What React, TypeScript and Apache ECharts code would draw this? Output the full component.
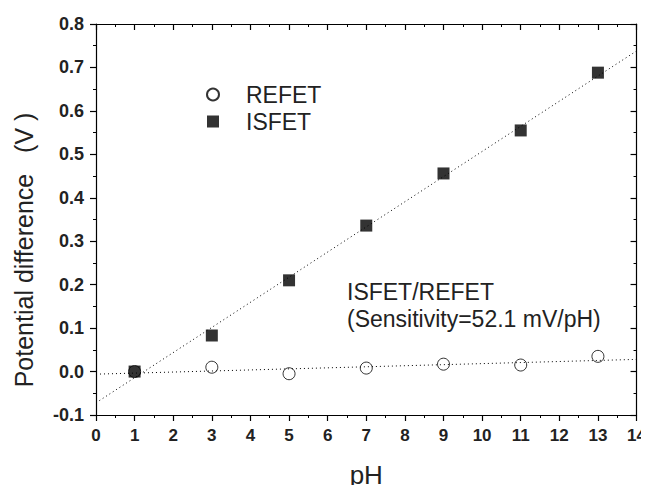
import React, { useEffect, useRef } from "react";
import * as echarts from "echarts";

const phValues = [1, 3, 5, 7, 9, 11, 13];
const isfetValues = [0.0, 0.083, 0.21, 0.336, 0.456, 0.555, 0.688];
const refetValues = [0.0, 0.01, -0.005, 0.008, 0.017, 0.015, 0.035];
const isfetFitX = [0, 14];
const isfetFitY = [-0.072, 0.738];
const refetFitX = [0, 14];
const refetFitY = [-0.006, 0.028];
const annotationLines = ["ISFET/REFET", "(Sensitivity=52.1 mV/pH)"];
const yTitle = "Potential difference   (V )";
const xTitle = "pH";

const FONT = "Liberation Sans, Arial, sans-serif";
const TEXT = "#222";

export default function App() {
  const ref = useRef<HTMLDivElement>(null);
  useEffect(() => {
    if (!ref.current) return;
    const chart = echarts.init(ref.current, null, { renderer: "svg" });
    const axisLine = { show: true, onZero: false, lineStyle: { color: "#000", width: 1.2 } };
    const minor = { show: true, splitNumber: 2, length: 3, lineStyle: { color: "#000", width: 1 } };
    const xBase = {
      type: "value",
      min: 0,
      max: 14,
      interval: 1,
      splitLine: { show: false },
      axisLine,
    };
    const yBase = {
      type: "value",
      min: -0.1,
      max: 0.8,
      interval: 0.1,
      splitLine: { show: false },
      axisLine,
    };
    chart.setOption({
      animation: false,
      backgroundColor: "#fff",
      textStyle: { fontFamily: FONT },
      grid: { left: 96, right: 11, top: 24, bottom: 71 },
      xAxis: [
        {
          ...xBase,
          position: "bottom",
          name: xTitle,
          nameLocation: "middle",
          nameGap: 47,
          nameTextStyle: { fontSize: 26, color: TEXT, fontFamily: FONT },
          axisTick: { show: true, length: 6, inside: false, lineStyle: { color: "#000", width: 1.2 } },
          minorTick: { ...minor, inside: false },
          axisLabel: { fontSize: 17, fontWeight: "bold", color: TEXT, margin: 12, fontFamily: FONT },
        },
        {
          ...xBase,
          position: "top",
          axisTick: { show: true, length: 6, inside: true, lineStyle: { color: "#000", width: 1.2 } },
          minorTick: { ...minor },
          axisLabel: { show: false },
        },
      ],
      yAxis: [
        {
          ...yBase,
          position: "left",
          axisTick: { show: true, length: 6, inside: false, lineStyle: { color: "#000", width: 1.2 } },
          minorTick: { ...minor },
          axisLabel: {
            fontSize: 18,
            fontWeight: "bold",
            color: TEXT,
            margin: 12,
            fontFamily: FONT,
            formatter: (v: number) => v.toFixed(1),
          },
        },
        {
          ...yBase,
          position: "right",
          axisTick: { show: true, length: 6, inside: true, lineStyle: { color: "#000", width: 1.2 } },
          minorTick: { ...minor },
          axisLabel: { show: false },
        },
      ],
      legend: {
        data: ["REFET", "ISFET"],
        orient: "vertical",
        left: 201,
        top: 78,
        itemGap: 4,
        itemWidth: 12,
        itemHeight: 12,
        textStyle: { fontSize: 23, color: TEXT, fontFamily: FONT, padding: [0, 0, 0, 22] },
      },
      graphic: [
        {
          type: "text",
          x: 24,
          y: 250,
          rotation: Math.PI / 2,
          style: {
            text: yTitle,
            fontSize: 25,
            fill: TEXT,
            fontFamily: FONT,
            align: "center",
            verticalAlign: "middle",
          },
        },
        {
          type: "text",
          x: 347,
          y: 292,
          style: {
            text: annotationLines[0],
            fontSize: 23,
            fill: TEXT,
            fontFamily: FONT,
            align: "left",
            verticalAlign: "middle",
          },
        },
        {
          type: "text",
          x: 347,
          y: 319,
          style: {
            text: annotationLines[1],
            fontSize: 23,
            fill: TEXT,
            fontFamily: FONT,
            align: "left",
            verticalAlign: "middle",
          },
        },
      ],
      series: [
        {
          name: "ISFET fit",
          type: "line",
          data: isfetFitX.map((x, i) => [x, isfetFitY[i]]),
          symbol: "none",
          lineStyle: { color: "#000", width: 1, type: [1, 3] },
          silent: true,
        },
        {
          name: "REFET fit",
          type: "line",
          data: refetFitX.map((x, i) => [x, refetFitY[i]]),
          symbol: "none",
          lineStyle: { color: "#000", width: 1, type: [1, 3] },
          silent: true,
        },
        {
          name: "REFET",
          type: "scatter",
          data: phValues.map((x, i) => [x, refetValues[i]]),
          symbol: "circle",
          symbolSize: 12,
          itemStyle: { color: "#fff", borderColor: "#000", borderWidth: 1 },
        },
        {
          name: "ISFET",
          type: "scatter",
          data: phValues.map((x, i) => [x, isfetValues[i]]),
          symbol: "rect",
          symbolSize: 12,
          itemStyle: { color: "#000" },
        },
      ],
    });
    return () => chart.dispose();
  }, []);
  return <div ref={ref} style={{ width: 649, height: 493, margin: -8 }} />;
}
